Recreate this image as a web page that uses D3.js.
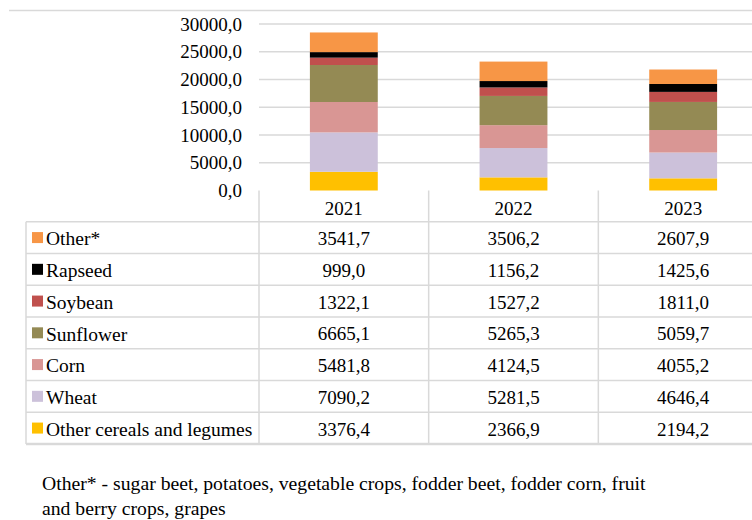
<!DOCTYPE html>
<html>
<head>
<meta charset="utf-8">
<script src="https://cdn.jsdelivr.net/npm/d3@7"></script>
<style>
  body { margin: 0; background: #fff; }
  svg text { font-family: "Liberation Serif", "Times New Roman", serif; fill: #000; }
</style>
</head>
<body>
<div id="chart"></div>
<script>
// data
var years = ["2021", "2022", "2023"];
var crops = ["Other cereals and legumes", "Wheat", "Corn", "Sunflower", "Soybean", "Rapseed", "Other*"];
var otherCereals = [3376.4, 2366.9, 2194.2];
var wheat = [7090.2, 5281.5, 4646.4];
var corn = [5481.8, 4124.5, 4055.2];
var sunflower = [6665.1, 5265.3, 5059.7];
var soybean = [1322.1, 1527.2, 1811.0];
var rapseed = [999.0, 1156.2, 1425.6];
var other = [3541.7, 3506.2, 2607.9];
var yTicks = [0, 5000, 10000, 15000, 20000, 25000, 30000];
var footnote = ["Other* - sugar beet, potatoes, vegetable crops, fodder beet, fodder corn, fruit",
                "and berry crops, grapes"];

var seriesValues = [otherCereals, wheat, corn, sunflower, soybean, rapseed, other];
var colors = ["#ffc000", "#ccc1da", "#d99694", "#948a54", "#c0504d", "#000000", "#f79646"];

var W = 752, H = 520;
var gridColor = "#d9d9d9";

var svg = d3.select("#chart").append("svg")
    .attr("width", W)
    .attr("height", H);

// build rows for the stack
var rows = years.map(function(y, i) {
    var r = {year: y};
    crops.forEach(function(c, j) { r[c] = seriesValues[j][i]; });
    return r;
});
var stack = d3.stack().keys(crops)(rows);

// scales
var x = d3.scaleBand().domain(years).range([259, 768]);
var y = d3.scaleLinear().domain([0, 30000]).range([190.5, 24]);
var fmt = function(v) { return d3.format(".1f")(v).replace(".", ","); };

// top border line
svg.append("line")
    .attr("x1", 9).attr("x2", W)
    .attr("y1", 10.5).attr("y2", 10.5)
    .attr("stroke", gridColor).attr("stroke-width", 1.5);

// gridlines
svg.append("g").selectAll("line")
    .data(yTicks.slice(1))
    .join("line")
    .attr("x1", 259).attr("x2", W)
    .attr("y1", function(d) { return y(d); })
    .attr("y2", function(d) { return y(d); })
    .attr("stroke", gridColor).attr("stroke-width", 1.5);

// y axis labels
svg.append("g").selectAll("text")
    .data(yTicks)
    .join("text")
    .attr("x", 242)
    .attr("y", function(d) { return y(d); })
    .attr("dy", "0.35em")
    .attr("text-anchor", "end")
    .style("font-size", "19px")
    .text(function(d) { return fmt(d); });

// bars
var barW = x.bandwidth() * 0.4;
svg.append("g").selectAll("g")
    .data(stack)
    .join("g")
    .attr("fill", function(d, i) { return colors[i]; })
    .selectAll("rect")
    .data(function(d) { return d; })
    .join("rect")
    .attr("x", function(d) { return x(d.data.year) + (x.bandwidth() - barW) / 2; })
    .attr("y", function(d) { return y(d[1]); })
    .attr("width", barW)
    .attr("height", function(d) { return y(d[0]) - y(d[1]); });

// data table
var tableLeft = 26, headTop = 190.5, rowH = 31.75;
var headBottom = headTop + 31.2;
var tableBottom = headBottom + rowH * crops.length;
var tg = svg.append("g");

// vertical lines
x.domain().forEach(function(yr) {
    tg.append("line")
        .attr("x1", x(yr)).attr("x2", x(yr))
        .attr("y1", headTop).attr("y2", tableBottom)
        .attr("stroke", gridColor).attr("stroke-width", 1.5);
});
tg.append("line")
    .attr("x1", tableLeft).attr("x2", tableLeft)
    .attr("y1", headBottom).attr("y2", tableBottom)
    .attr("stroke", gridColor).attr("stroke-width", 1.5);
// horizontal lines
d3.range(crops.length + 1).forEach(function(i) {
    tg.append("line")
        .attr("x1", tableLeft).attr("x2", W)
        .attr("y1", headBottom + i * rowH).attr("y2", headBottom + i * rowH)
        .attr("stroke", gridColor).attr("stroke-width", i === crops.length ? 2.5 : 1.5);
});

// year headers
tg.selectAll(".yr")
    .data(years)
    .join("text")
    .attr("class", "yr")
    .attr("x", function(d) { return x(d) + x.bandwidth() / 2; })
    .attr("y", (headTop + headBottom) / 2 + 2)
    .attr("dy", "0.35em")
    .attr("text-anchor", "middle")
    .style("font-size", "19px")
    .text(function(d) { return d; });

// rows, top row is the last series
var order = d3.range(crops.length).reverse();
order.forEach(function(j, r) {
    var cy = headBottom + r * rowH + rowH / 2;
    tg.append("rect")
        .attr("x", 32).attr("y", cy - 5.5)
        .attr("width", 11).attr("height", 11)
        .attr("fill", colors[j]);
    tg.append("text")
        .attr("x", 46).attr("y", cy + 1)
        .attr("dy", "0.35em")
        .style("font-size", "19.5px")
        .text(crops[j]);
    years.forEach(function(yr, i) {
        tg.append("text")
            .attr("x", x(yr) + x.bandwidth() / 2)
            .attr("y", cy + 1)
            .attr("dy", "0.35em")
            .attr("text-anchor", "middle")
            .style("font-size", "19px")
            .text(fmt(seriesValues[j][i]));
    });
});

// footnote
svg.append("g").selectAll("text")
    .data(footnote)
    .join("text")
    .attr("x", 42)
    .attr("y", function(d, i) { return 490 + i * 25; })
    .style("font-size", "19.7px")
    .text(function(d) { return d; });
</script>
</body>
</html>
